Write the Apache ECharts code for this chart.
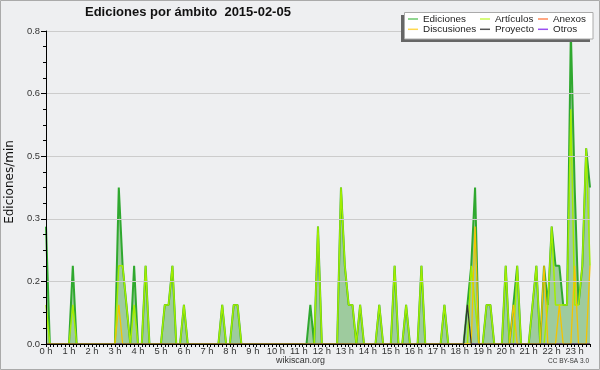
<!DOCTYPE html>
<html>
<head>
<meta charset="utf-8">
<script src="https://cdn.jsdelivr.net/npm/echarts@6/dist/echarts.min.js"></script>
<style>html,body{margin:0;padding:0;background:#eeeff1;}#c{width:600px;height:370px;}</style>
</head>
<body>
<div id="c"></div>
<script>
// Hour tick labels
const hourLabels = ['0 h','1 h','2 h','3 h','4 h','5 h','6 h','7 h','8 h','9 h','10 h','11 h',
  '12 h','13 h','14 h','15 h','16 h','17 h','18 h','19 h','20 h','21 h','22 h','23 h'];
const yTicks = [0, 0.16, 0.32, 0.48, 0.64, 0.8];

// Edits per minute, 10-minute bins (one row per hour)
const ediciones = [
  0.3,0,0,0,0,0,
  0,0.2,0,0,0,0,
  0,0,0,0,0,0,
  0,0.4,0.2,0.1,0,0.2,
  0,0,0.2,0,0,0,
  0,0.1,0.1,0.2,0,0,
  0.1,0,0,0,0,0,
  0,0,0,0,0.1,0,
  0,0.1,0.1,0,0,0,
  0,0,0,0,0,0,
  0,0,0,0,0,0,
  0,0,0,0.1,0,0.3,
  0,0,0,0,0,0.4,
  0.2,0.1,0.1,0,0.1,0,
  0,0,0,0.1,0,0,
  0,0.2,0,0,0.1,0,
  0,0,0.2,0,0,0,
  0,0,0.1,0,0,0,
  0,0,0.1,0.2,0.4,0,
  0,0.1,0.1,0,0,0,
  0.2,0,0.1,0.2,0,0,
  0,0.1,0.2,0,0.2,0.1,
  0.3,0.2,0.2,0.1,0.1,0.8,
  0.4,0.1,0.2,0.5,0.4
];
const articulos = [
  0.1,0,0,0,0,0,
  0,0.1,0,0,0,0,
  0,0,0,0,0,0,
  0,0.2,0.2,0.1,0,0.1,
  0,0,0.2,0,0,0,
  0,0.1,0.1,0.2,0,0,
  0.1,0,0,0,0,0,
  0,0,0,0,0.1,0,
  0,0.1,0.1,0,0,0,
  0,0,0,0,0,0,
  0,0,0,0,0,0,
  0,0,0,0,0,0.3,
  0,0,0,0,0,0.4,
  0.2,0.1,0.1,0,0.1,0,
  0,0,0,0.1,0,0,
  0,0.2,0,0,0.1,0,
  0,0,0.2,0,0,0,
  0,0,0.1,0,0,0,
  0,0,0,0.2,0.1,0,
  0,0.1,0.1,0,0,0,
  0.2,0,0,0.2,0,0,
  0,0.1,0.2,0,0,0.1,
  0.3,0.1,0.1,0.1,0.1,0.6,
  0.1,0.1,0.2,0.5,0.2
];
const discusiones = [
  0,0,0,0,0,0,
  0,0,0,0,0,0,
  0,0,0,0,0,0,
  0,0.1,0,0,0,0,
  0,0,0,0,0,0,
  0,0,0,0,0,0,
  0,0,0,0,0,0,
  0,0,0,0,0,0,
  0,0,0,0,0,0,
  0,0,0,0,0,0,
  0,0,0,0,0,0,
  0,0,0,0,0,0,
  0,0,0,0,0,0,
  0,0,0,0,0,0,
  0,0,0,0,0,0,
  0,0,0,0,0,0,
  0,0,0,0,0,0,
  0,0,0,0,0,0,
  0,0,0,0,0.3,0,
  0,0,0,0,0,0,
  0,0,0.1,0,0,0,
  0,0,0,0,0.2,0,
  0,0,0.1,0,0,0,
  0.2,0,0,0,0.2
];
const proyecto = [
  0,0,0,0,0,0,
  0,0,0,0,0,0,
  0,0,0,0,0,0,
  0,0,0,0,0,0,
  0,0,0,0,0,0,
  0,0,0,0,0,0,
  0,0,0,0,0,0,
  0,0,0,0,0,0,
  0,0,0,0,0,0,
  0,0,0,0,0,0,
  0,0,0,0,0,0,
  0,0,0,0,0,0,
  0,0,0,0,0,0,
  0,0,0,0,0,0,
  0,0,0,0,0,0,
  0,0,0,0,0,0,
  0,0,0,0,0,0,
  0,0,0,0,0,0,
  0,0,0.1,0,0,0,
  0,0,0,0,0,0,
  0,0,0,0,0,0,
  0,0,0,0,0,0,
  0,0,0,0,0,0,
  0,0,0,0,0
];
const anexos = [
  0,0,0,0,0,0, 0,0,0,0,0,0, 0,0,0,0,0,0, 0,0,0,0,0,0,
  0,0,0,0,0,0, 0,0,0,0,0,0, 0,0,0,0,0,0, 0,0,0,0,0,0,
  0,0,0,0,0,0, 0,0,0,0,0,0, 0,0,0,0,0,0, 0,0,0,0,0,0,
  0,0,0,0,0,0, 0,0,0,0,0,0, 0,0,0,0,0,0, 0,0,0,0,0,0,
  0,0,0,0,0,0, 0,0,0,0,0,0, 0,0,0,0,0,0, 0,0,0,0,0,0,
  0,0,0,0,0,0, 0,0,0,0,0,0, 0,0,0,0,0,0, 0,0,0,0,0
];
const otros = [
  0,0,0,0,0,0, 0,0,0,0,0,0, 0,0,0,0,0,0, 0,0,0,0,0,0,
  0,0,0,0,0,0, 0,0,0,0,0,0, 0,0,0,0,0,0, 0,0,0,0,0,0,
  0,0,0,0,0,0, 0,0,0,0,0,0, 0,0,0,0,0,0, 0,0,0,0,0,0,
  0,0,0,0,0,0, 0,0,0,0,0,0, 0,0,0,0,0,0, 0,0,0,0,0,0,
  0,0,0,0,0,0, 0,0,0,0,0,0, 0,0,0,0,0,0, 0,0,0,0,0,0,
  0,0,0,0,0,0, 0,0,0,0,0,0, 0,0,0,0,0,0, 0,0,0,0,0
];

// time categories for the 10-minute bins
const categories = ediciones.map((_, i) => {
  const h = Math.floor(i / 6), m = (i % 6) * 10;
  return (h < 10 ? '0' : '') + h + ':' + (m < 10 ? '0' : '') + m;
});

const chart = echarts.init(document.getElementById('c'), null, {renderer: 'canvas'});
const LF = 'Liberation Sans';
function legendItem(name, left, top) {
  return {
    data: [name], left: left, top: top, padding: 0, itemWidth: 10, itemHeight: 1.5,
    icon: 'rect', selectedMode: false, z: 110,
    textStyle: {fontSize: 9.9, fontFamily: LF, color: '#222', lineHeight: 11}
  };
}
function lineSeries(name, data, lineColor, legendColor, width, extra) {
  return Object.assign({
    name: name, type: 'line', data: data, symbol: 'none', showSymbol: false,
    lineStyle: {color: lineColor, width: width},
    itemStyle: {color: legendColor},
    emphasis: {disabled: true}, silent: true
  }, extra || {});
}
const option = {
  backgroundColor: '#eeeff1',
  animation: false,
  title: {
    text: 'Ediciones por ámbito  2015-02-05', left: 85, top: 6, padding: 0,
    textStyle: {fontSize: 13, fontWeight: 'bold', fontFamily: LF, color: '#111'}
  },
  legend: [
    legendItem('Ediciones', 408, 13.5),
    legendItem('Discusiones', 408, 23.8),
    legendItem('Artículos', 480, 13.5),
    legendItem('Proyecto', 480, 23.8),
    legendItem('Anexos', 538, 13.5),
    legendItem('Otros', 538, 23.8)
  ],
  grid: {left: 46, right: 10, top: 31, bottom: 26, containLabel: false},
  xAxis: {
    type: 'category', data: categories, boundaryGap: false, z: 10,
    axisLine: {lineStyle: {color: '#000', width: 1}},
    axisTick: {show: true, interval: 0, length: 3, lineStyle: {color: '#000'}},
    axisLabel: {interval: 5, margin: 3, fontSize: 9.4, fontFamily: LF, color: '#333',
      formatter: (v, i) => hourLabels[Math.round(i / 6)]},
    splitLine: {show: false}
  },
  yAxis: {
    type: 'value', min: yTicks[0], max: yTicks[yTicks.length - 1], interval: yTicks[1] - yTicks[0], z: 10,
    axisLine: {show: true, lineStyle: {color: '#000', width: 1}},
    axisTick: {show: true, length: 5, lineStyle: {color: '#000'}},
    minorTick: {show: true, splitNumber: 4, length: 3, lineStyle: {color: '#000'}},
    axisLabel: {margin: 6, fontSize: 9.4, fontFamily: LF, color: '#333',
      formatter: v => v.toFixed(1)},
    splitLine: {show: true, lineStyle: {color: '#cccccc', width: 1}}
  },
  series: [
    lineSeries('Ediciones', ediciones, '#2fa82f', '#6cc86c', 2,
      {areaStyle: {color: '#9ecb9e', opacity: 1}, z: 2}),
    lineSeries('Artículos', articulos, '#a2ee00', '#c8fa50', 1.5, {z: 3}),
    lineSeries('Anexos', anexos, '#ff7a45', '#ff8a5a', 1, {z: 3}),
    lineSeries('Discusiones', discusiones, '#f4c400', '#ffd850', 1.3, {z: 4}),
    lineSeries('Proyecto', proyecto, '#333333', '#555555', 1.2, {z: 4}),
    lineSeries('Otros', otros, '#9944ee', '#9a50f0', 1, {z: 3})
  ],
  graphic: [
    {type: 'rect', shape: {x: 0.5, y: 0.5, width: 599, height: 369}, z: 120, silent: true,
      style: {fill: 'none', stroke: '#aaaaaa', lineWidth: 1}},
    {type: 'rect', shape: {x: 401, y: 15, width: 189, height: 27}, z: 100, silent: true,
      style: {fill: '#666666'}},
    {type: 'rect', shape: {x: 404.5, y: 12.5, width: 188.5, height: 26.5}, z: 101, silent: true,
      style: {fill: '#ffffff', stroke: '#aaaaaa', lineWidth: 1}},
    {type: 'text', x: 10, y: 182, rotation: Math.PI / 2, z: 120, silent: true,
      style: {text: 'Ediciones/min', fontSize: 12, fontFamily: 'DejaVu Sans', fill: '#111',
        align: 'center', verticalAlign: 'middle'}},
    {type: 'text', x: 300.5, y: 361, z: 120, silent: true,
      style: {text: 'wikiscan.org', fontSize: 8.9, fontFamily: LF, fill: '#333',
        align: 'center', verticalAlign: 'middle'}},
    {type: 'text', x: 589, y: 361, z: 120, silent: true,
      style: {text: 'CC BY-SA 3.0', fontSize: 6.5, fontFamily: LF, fill: '#333',
        align: 'right', verticalAlign: 'middle'}}
  ]
};
chart.setOption(option);
</script>
</body>
</html>
